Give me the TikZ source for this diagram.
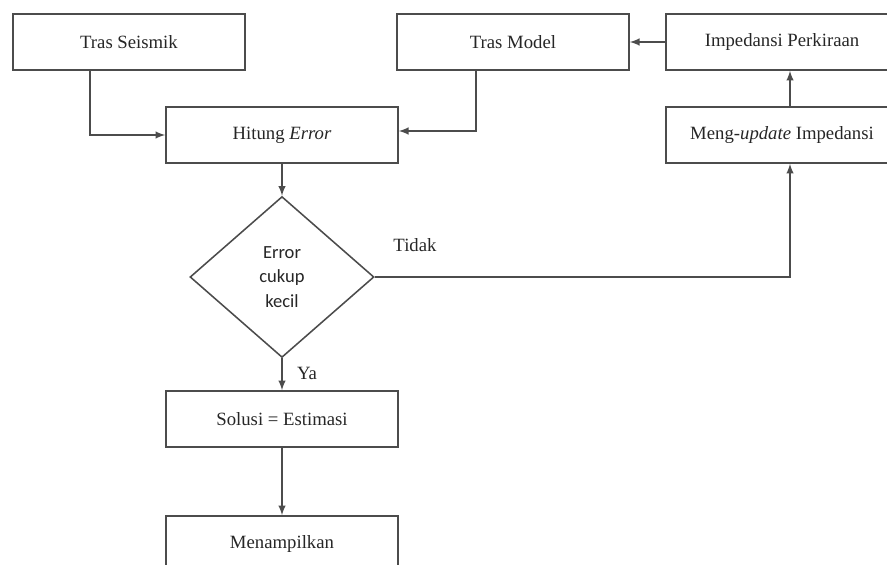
\documentclass[tikz,border=0pt]{standalone}
\usepackage{fontspec}
\setmainfont{Liberation Serif}
\newfontfamily\diafont{Carlito}
\usepackage{tikz}
\usetikzlibrary{arrows}
\usetikzlibrary{shapes}
\tikzset{>=latex}
\colorlet{penColor}{black!70}
\colorlet{textColor}{black!85}

\begin{document}
\begin{tikzpicture}[x=0.55pt,y=-0.55pt,
    box/.style={draw=penColor,line width=0.85pt,minimum width=127.6pt,
      minimum height=30.8pt,inner sep=0pt,text=textColor,
      font=\fontsize{10.3}{12}\selectfont},
    decision/.style={diamond,draw=penColor,line width=0.85pt,
      minimum width=101.2pt,minimum height=88.5pt,inner sep=0pt,
      aspect=1.14,text=textColor,align=center,
      font=\diafont\fontsize{10.2}{13.5}\selectfont},
    lbl/.style={text=textColor,font=\fontsize{10.3}{12}\selectfont},
    flow/.style={->,draw=penColor,line width=0.85pt}]
      \useasboundingbox (0,0) rectangle (887,565);
      \clip (0,0) rectangle (887,565);
            \node[box] (ts) at (129,42) {Tras Seismik};
            \node[box] (tm) at (513,42) {Tras Model};
            \node[box] (ip) at (782,42) {Impedansi Perkiraan};
            \node[box] (he) at (282,135) {Hitung \textit{Error}};
            \node[box] (mu) at (782,135) {Meng-\textit{update} Impedansi};
            \node[decision] (dc) at (282,277) {Error\\cukup\\kecil};
            \node[box] (so) at (282,419) {Solusi = Estimasi};
            \node[box] (me) at (282,544) {Menampilkan};
            \node[lbl] (tidak) at (415,245) {Tidak};
            \node[lbl] (ya) at (307,373) {Ya};
            \draw[flow] ([xshift=-21.45pt]ts.south) |- (he.west);
            \draw[flow] ([xshift=-20.35pt]tm.south) |- ([yshift=2.2pt]he.east);
            \draw[flow] (ip.west) -- (tm.east);
            \draw[flow] ([xshift=4.4pt]mu.north) -- ([xshift=4.4pt]ip.south);
            \draw[flow] (dc.east) -| ([xshift=4.4pt]mu.south);
            \draw[flow] (he.south) -- (dc.north);
            \draw[flow] (dc.south) -- (so.north);
            \draw[flow] (so.south) -- (me.north);
      \end{tikzpicture}
\end{document}
